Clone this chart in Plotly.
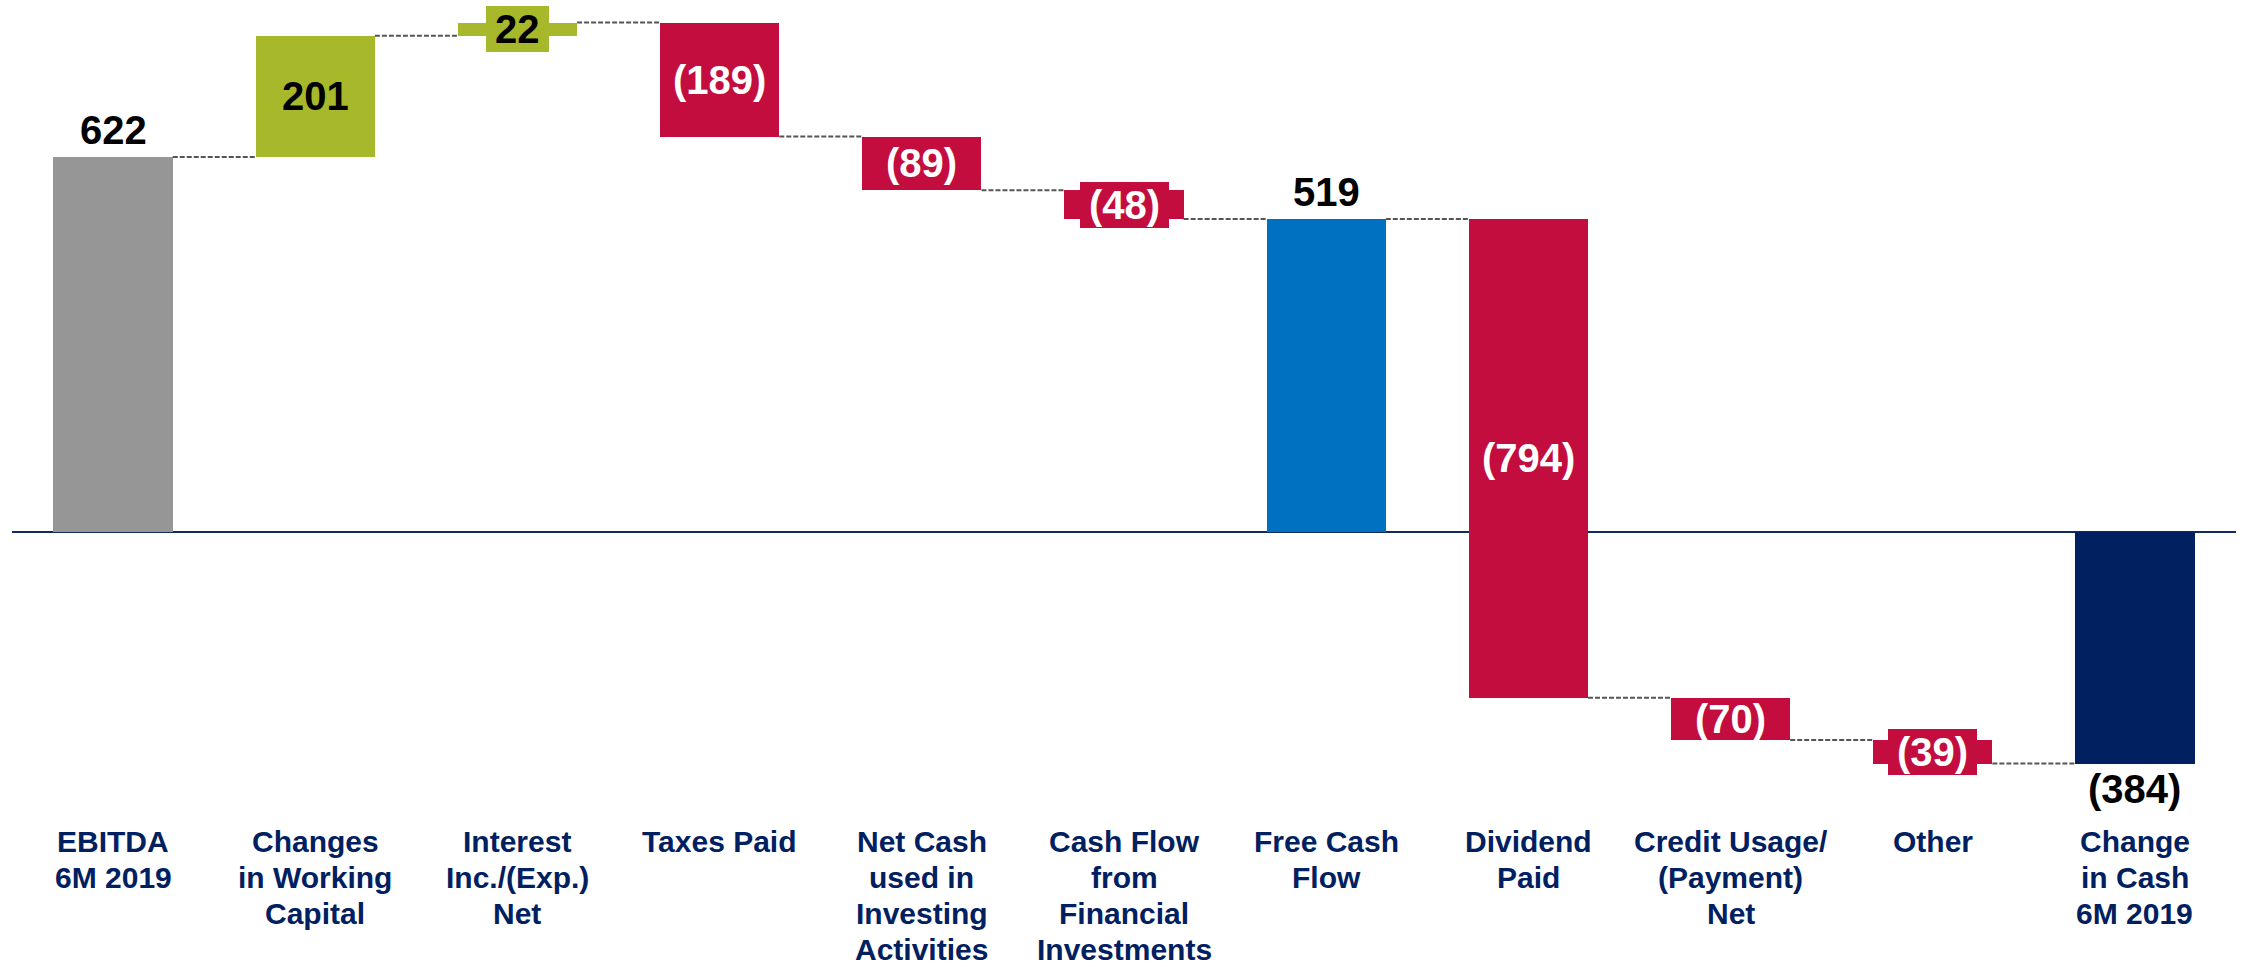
import plotly.graph_objects as go

# ---- data ----
categories = [
    "EBITDA<br>6M 2019",
    "Changes<br>in Working<br>Capital",
    "Interest<br>Inc./(Exp.)<br>Net",
    "Taxes Paid",
    "Net Cash<br>used in<br>Investing<br>Activities",
    "Cash Flow<br>from<br>Financial<br>Investments",
    "Free Cash<br>Flow",
    "Dividend<br>Paid",
    "Credit Usage/<br>(Payment)<br>Net",
    "Other",
    "Change<br>in Cash<br>6M 2019",
]
values = [622, 201, 22, -189, -89, -48, 519, -794, -70, -39, -384]
measures = ["total", "relative", "relative", "relative", "relative", "relative",
            "total", "relative", "relative", "relative", "total"]

# ---- styles ----
GRAY = "#969696"
GREEN = "#A7B82A"
RED = "#C30D3E"
BLUE = "#0070C0"
NAVY = "#00205F"
bar_colors = [GRAY, GREEN, GREEN, RED, RED, RED, BLUE, RED, RED, RED, NAVY]
FONT = "Liberation Sans, Arial, sans-serif"
BAR_W = 0.59
VAL_SIZE = 40
CAT_SIZE = 30
CAT_LINE = 36

# ---- compute bases ----
bases, levels = [], []
run = 0
for v, m in zip(values, measures):
    if m == "total":
        base = 0
        run = v
    else:
        base = run
        run = run + v
    bases.append(base)
    levels.append(run)

x = list(range(len(categories)))

fig = go.Figure()
fig.add_trace(go.Bar(
    x=x, y=values, base=bases, width=BAR_W,
    marker=dict(color=bar_colors, line=dict(width=0)),
    hoverinfo="skip", showlegend=False,
))

# connectors
cx, cy = [], []
for i in range(len(values) - 1):
    cx += [i + BAR_W / 2, i + 1 - BAR_W / 2, None]
    cy += [levels[i], levels[i], None]
fig.add_trace(go.Scatter(
    x=cx, y=cy, mode="lines",
    line=dict(color="#555555", width=2, dash="5px,2px"),
    hoverinfo="skip", showlegend=False,
))

def fmt(v):
    return f"({abs(v)})" if v < 0 else f"{v}"

annotations = []
for i, (v, m) in enumerate(zip(values, measures)):
    b = bases[i]
    top = b + v
    txt = "<b>" + fmt(v) + "</b>"
    if m == "total":
        if v >= 0:
            annotations.append(dict(x=i, y=top, text=txt, showarrow=False,
                                    yanchor="bottom", yshift=3,
                                    font=dict(family=FONT, size=VAL_SIZE, color="black")))
        else:
            annotations.append(dict(x=i, y=top, text=txt, showarrow=False,
                                    yanchor="top", yshift=-1,
                                    font=dict(family=FONT, size=VAL_SIZE, color="black")))
    else:
        col = "black" if bar_colors[i] == GREEN else "white"
        mid = b + v / 2
        if abs(v) < 60:
            annotations.append(dict(x=i, y=mid, text="<b>\u2009" + fmt(v) + "\u2009</b>",
                                    showarrow=False, yanchor="middle",
                                    bgcolor=bar_colors[i], borderpad=1, borderwidth=0,
                                    font=dict(family=FONT, size=VAL_SIZE, color=col)))
        else:
            annotations.append(dict(x=i, y=mid, text=txt, showarrow=False,
                                    yanchor="middle",
                                    font=dict(family=FONT, size=VAL_SIZE, color=col)))

for i, c in enumerate(categories):
    for k, line in enumerate(c.split("<br>")):
        annotations.append(dict(x=i, y=0, xref="x", yref="paper",
                                text="<b>" + line + "</b>",
                                showarrow=False, yanchor="top",
                                yshift=-23 - k * CAT_LINE, align="center",
                                font=dict(family=FONT, size=CAT_SIZE, color=NAVY)))

scale = 375 / 622.0
fig.update_layout(
    width=2242, height=967,
    margin=dict(l=12, r=6, t=0, b=167),
    paper_bgcolor="white", plot_bgcolor="white",
    bargap=0,
    xaxis=dict(range=[-0.5, len(categories) - 0.5], visible=False),
    yaxis=dict(range=[-268 / scale, 532 / scale], showgrid=False,
               showticklabels=False, ticks="", zeroline=True,
               zerolinecolor="#0F2A5C", zerolinewidth=2, showline=False),
    annotations=annotations,
)

fig.write_html("out.html", config={"displayModeBar": False},
               post_script="document.body.style.margin='0px';document.body.style.overflow='hidden';")
